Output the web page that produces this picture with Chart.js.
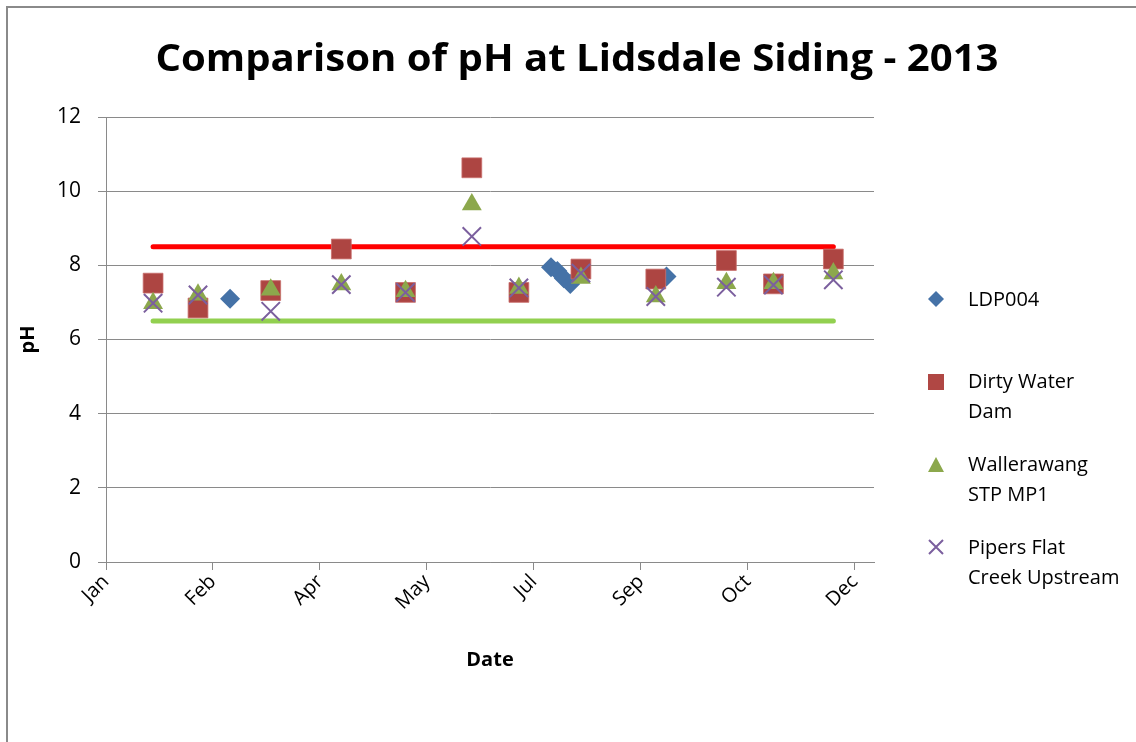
<!DOCTYPE html>
<html>
<head>
<meta charset="utf-8">
<script src="https://cdn.jsdelivr.net/npm/chart.js@4.4.0/dist/chart.umd.min.js"></script>
<style>
	body { margin: 0; overflow: hidden; background: #fff; font-family: "Open Sans", sans-serif; }
	#frame { position: absolute; left: 6px; top: 6px; width: 1200px; height: 800px; border-left: 2px solid #8a8a8a; border-top: 2px solid #8a8a8a; }
	#wrap { position: absolute; left: 0; top: 0; width: 1136px; height: 742px; }
	#title { position: absolute; left: 0; top: 34px; width: 1154px; text-align: center; font-size: 37px; font-weight: bold; line-height: 46px; color: #000; }
	#title span { display: inline-block; transform-origin: center; white-space: nowrap; }
	.lg { position: absolute; left: 968px; font-size: 20px; line-height: 29.5px; color: #000; }
	.mk { position: absolute; left: 926px; }
</style>
</head>
<body>
<div id="frame"></div>
<div id="wrap"><canvas id="phChart"></canvas></div>
<div id="title"><span id="titleText">Comparison of pH at Lidsdale Siding - 2013</span></div>

<div class="mk" style="top:289px"><svg width="20" height="20"><path d="M10 2 L18 10 L10 18 L2 10 Z" fill="#4572A7"/></svg></div>
<div class="lg" style="top:284px">LDP004</div>

<div class="mk" style="top:372px"><svg width="20" height="20"><rect x="2" y="2" width="16" height="16" fill="#B04744"/></svg></div>
<div class="lg" style="top:366px">Dirty Water<br>Dam</div>

<div class="mk" style="top:455px"><svg width="20" height="20"><path d="M10 2 L18 17 L2 17 Z" fill="#8CA84C"/></svg></div>
<div class="lg" style="top:449px">Wallerawang<br>STP MP1</div>

<div class="mk" style="top:537px"><svg width="20" height="20"><path d="M3 3 L17 17 M17 3 L3 17" stroke="#7B5F9E" stroke-width="2"/></svg></div>
<div class="lg" style="top:532px">Pipers Flat<br>Creek Upstream</div>

<script>
	// 샘플 날짜 (2013)
	const sampleDates = ['2013-01-23', '2013-02-13', '2013-03-19', '2013-04-21', '2013-05-21', '2013-06-21',
		'2013-07-13', '2013-08-11', '2013-09-15', '2013-10-18', '2013-11-09', '2013-12-07'];
	const ldpDates = ['2013-02-28', '2013-07-28', '2013-07-31', '2013-08-03', '2013-08-06', '2013-09-20'];

	// pH 값
	const ldp004 = [7.1, 7.95, 7.85, 7.65, 7.5, 7.7];
	const dirtyWaterDam = [7.52, 6.85, 7.32, 8.44, 7.27, 10.63, 7.27, 7.9, 7.63, 8.13, 7.5, 8.17];
	const wallerawangStp = [6.98, 7.21, 7.34, 7.48, 7.3, 9.64, 7.39, 7.66, 7.16, 7.52, 7.52, 7.78];
	const pipersFlat = [6.98, 7.2, 6.76, 7.48, 7.27, 8.78, 7.39, 7.79, 7.16, 7.41, 7.47, 7.61];

	// 기준선
	const limitDates = ['2013-01-23', '2013-12-07'];
	const upperLimit = [8.5, 8.5];
	const lowerLimit = [6.5, 6.5];

	const monthNames = ['Jan', 'Feb', 'Mar', 'Apr', 'May', 'Jun', 'Jul', 'Aug', 'Sep', 'Oct', 'Nov', 'Dec'];
	const baseDay = Date.UTC(2013, 0, 1);

	// 제목 폭 맞추기
	let titleSpan = document.getElementById('titleText');
	titleSpan.style.transform = 'scaleX(' + (843 / titleSpan.getBoundingClientRect().width) + ')';

	// 날짜 -> 1월 1일부터 지난 일수
	function dayOf(str) {
		let p = str.split('-');
		return (Date.UTC(+p[0], +p[1] - 1, +p[2]) - baseDay) / 86400000;
	} // dayOf

	function toPoints(dates, values) {
		let arr = [];
		for (let i = 0; i < values.length; i++) {
			arr.push({ x: dayOf(dates[i]), y: values[i] });
		} // end for
		return arr;
	} // toPoints

	Chart.defaults.font.family = '"Open Sans", sans-serif';
	Chart.defaults.color = '#000';

	const gridColor = '#8a8a8a';

	new Chart(document.getElementById('phChart'), {
		type: 'scatter',
		data: {
			datasets: [{
				label: 'Pipers Flat Creek Upstream',
				data: toPoints(sampleDates, pipersFlat),
				pointStyle: 'crossRot',
				pointRadius: 13,
				pointHoverRadius: 13,
				borderWidth: 2,
				pointBorderWidth: 2,
				borderColor: '#7B5F9E',
				backgroundColor: '#7B5F9E',
				order: 0
			}, {
				label: 'Wallerawang STP MP1',
				data: toPoints(sampleDates, wallerawangStp),
				pointStyle: 'triangle',
				pointRadius: 11.5,
				pointHoverRadius: 11.5,
				borderWidth: 0,
				borderColor: '#8CA84C',
				backgroundColor: '#8CA84C',
				order: 1
			}, {
				label: 'Dirty Water Dam',
				data: toPoints(sampleDates, dirtyWaterDam),
				pointStyle: 'rect',
				pointRadius: 14,
				pointHoverRadius: 14,
				borderWidth: 1,
				borderColor: 'rgba(200,110,108,0.8)',
				backgroundColor: '#AD4542',
				order: 2
			}, {
				label: 'LDP004',
				data: toPoints(ldpDates, ldp004),
				pointStyle: 'rectRot',
				pointRadius: 10,
				pointHoverRadius: 10,
				borderWidth: 0,
				borderColor: '#4572A7',
				backgroundColor: '#4572A7',
				order: 3
			}, {
				label: 'upper',
				data: toPoints(limitDates, upperLimit),
				showLine: true,
				borderColor: '#ff0000',
				borderWidth: 5,
				borderCapStyle: 'round',
				pointRadius: 0,
				order: 4
			}, {
				label: 'lower',
				data: toPoints(limitDates, lowerLimit),
				showLine: true,
				borderColor: '#92d050',
				borderWidth: 5,
				borderCapStyle: 'round',
				pointRadius: 0,
				order: 5
			}]
		},
		options: {
			responsive: true,
			maintainAspectRatio: false,
			animation: false,
			layout: {
				padding: { left: 12, right: 262, top: 117, bottom: 52 }
			},
			plugins: {
				legend: { display: false },
				tooltip: { enabled: false }
			},
			scales: {
				x: {
					type: 'linear',
					min: 0,
					max: 359,
					afterFit: function(scale) {
						scale.height = 128;
					},
					grid: { drawOnChartArea: false, color: gridColor, tickLength: 8 },
					border: { color: gridColor },
					ticks: {
						stepSize: 50,
						includeBounds: false,
						minRotation: 45,
						maxRotation: 45,
						padding: 0,
						font: { size: 20 },
						callback: function(v) {
							let d = new Date(baseDay + v * 86400000);
							return monthNames[d.getUTCMonth()];
						}
					},
					title: {
						display: true,
						text: 'Date',
						font: { size: 20, weight: 'bold' },
						padding: { top: 30, bottom: 18 }
					}
				},
				y: {
					min: 0,
					max: 12,
					grid: { color: gridColor, tickLength: 8 },
					border: { color: gridColor },
					ticks: { stepSize: 2, padding: 17, font: { size: 21 } },
					title: {
						display: true,
						text: 'pH',
						font: { size: 20, weight: 'bold' },
						padding: { top: 4, bottom: 0 }
					}
				}
			}
		}
	}); // end chart
</script>
</body>
</html>
